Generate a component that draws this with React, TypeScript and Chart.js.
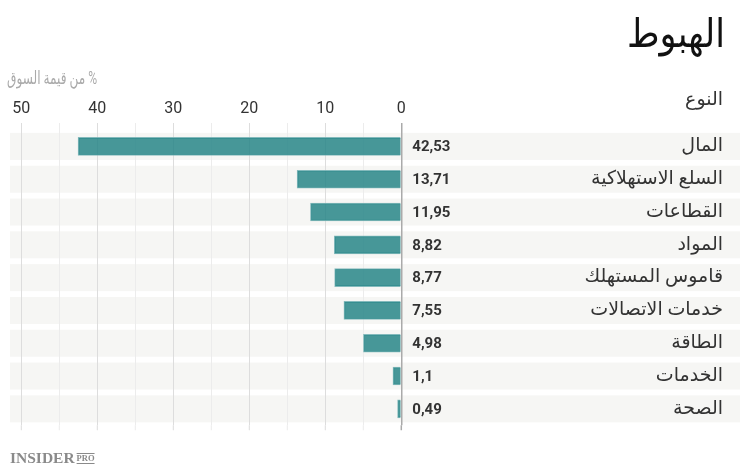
import React, { useEffect, useRef } from "react";
import { Chart, registerables } from "chart.js";

Chart.register(...registerables);

const title = "الهبوط";
const axisTitle = "% من قيمة السوق";
const columnHeader = "النوع";
const categories = [
  "المال",
  "السلع الاستهلاكية",
  "القطاعات",
  "المواد",
  "قاموس المستهلك",
  "خدمات الاتصالات",
  "الطاقة",
  "الخدمات",
  "الصحة",
];
const values = [42.53, 13.71, 11.95, 8.82, 8.77, 7.55, 4.98, 1.1, 0.49];
const valueLabels = ["42,53", "13,71", "11,95", "8,82", "8,77", "7,55", "4,98", "1,1", "0,49"];
const xTicks = [0, 10, 20, 30, 40, 50];

const FONT = "Roboto, 'Noto Sans', 'DejaVu Sans', sans-serif";

const decor = {
  id: "decor",
  beforeDraw(chart: any) {
    const { ctx } = chart;
    const y = chart.scales.y;
    ctx.save();
    ctx.fillStyle = "#f6f6f4";
    categories.forEach((_, i) => {
      const py = y.getPixelForValue(i);
      ctx.fillRect(10, py - 13.5, 730, 27);
    });
    ctx.restore();
  },
  beforeDatasetsDraw(chart: any) {
    const { ctx, chartArea } = chart;
    const x = chart.scales.x;
    ctx.save();
    x.ticks.forEach((t: any) => {
      const px = x.getPixelForValue(t.value);
      const v = t.value;
      ctx.strokeStyle = v === 0 ? "#aaaaaa" : v % 10 === 0 ? "#dddddd" : "#ececec";
      ctx.lineWidth = v === 0 ? 1.5 : 1;
      ctx.beginPath();
      ctx.moveTo(px, chartArea.bottom);
      ctx.lineTo(px, chartArea.bottom + 5);
      ctx.stroke();
    });
    ctx.restore();
  },
  afterDraw(chart: any) {
    const { ctx } = chart;
    const x = chart.scales.x;
    const y = chart.scales.y;
    const zero = x.getPixelForValue(0);
    ctx.save();
    // value labels
    ctx.fillStyle = "#333333";
    ctx.font = `bold 15px ${FONT}`;
    ctx.textAlign = "left";
    ctx.textBaseline = "middle";
    valueLabels.forEach((lab, i) => {
      ctx.fillText(lab, zero + 11, y.getPixelForValue(i) + 1);
    });
    // category labels
    ctx.direction = "rtl";
    ctx.font = `19px ${FONT}`;
    ctx.textAlign = "right";
    ctx.fillStyle = "#333333";
    categories.forEach((c, i) => {
      ctx.fillText(c, 723, y.getPixelForValue(i));
    });
    // header
    ctx.fillText(columnHeader, 723, 100);
    // title
    ctx.fillStyle = "#111111";
    ctx.font = `40px ${FONT}`;
    ctx.textBaseline = "alphabetic";
    ctx.fillText(title, 725, 47, 98);
    // axis title
    ctx.fillStyle = "#aaaaaa";
    ctx.font = `18px ${FONT}`;
    ctx.textBaseline = "middle";
    ctx.fillText(axisTitle, 97, 79, 90);
    // footer logo
    ctx.direction = "ltr";
    ctx.textAlign = "left";
    ctx.textBaseline = "alphabetic";
    ctx.fillStyle = "#8a8a8a";
    ctx.font = `bold 15.5px 'Liberation Serif', serif`;
    ctx.fillText("INSIDER", 10, 463);
    const w = ctx.measureText("INSIDER").width;
    ctx.font = `bold 8.5px 'Liberation Serif', serif`;
    ctx.fillText("PRO", 10 + w + 2, 461);
    const pw = ctx.measureText("PRO").width;
    ctx.fillRect(10 + w + 2, 453, pw, 1);
    ctx.fillRect(10 + w + 2, 463, pw, 1);
    ctx.restore();
  },
};

export default function App() {
  const ref = useRef<HTMLCanvasElement>(null);
  useEffect(() => {
    if (!ref.current) return;
    const chart = new Chart(ref.current, {
      type: "bar",
      data: {
        labels: categories,
        datasets: [
          {
            data: values,
            backgroundColor: "rgba(30,128,131,0.81)",
            borderColor: "rgba(120,180,182,0.9)",
            borderWidth: 1,
            barThickness: 18,
          },
        ],
      },
      options: {
        indexAxis: "y",
        animation: false,
        responsive: false,
        layout: { padding: { left: 21.3, right: 348.7, top: 95.8, bottom: 50.75 } },
        plugins: { legend: { display: false }, tooltip: { enabled: false } },
        scales: {
          x: {
            position: "top",
            reverse: true,
            min: 0,
            max: 50,
            border: { display: false },
            grid: {
              drawTicks: true,
              tickLength: 7,
              color: (c: any) =>
                c.tick && c.tick.value === 0 ? "#aaaaaa" : c.tick && c.tick.value % 10 === 0 ? "#dddddd" : "#ececec",
              lineWidth: (c: any) => (c.tick && c.tick.value === 0 ? 1.5 : 1),
            },
            ticks: {
              stepSize: 5,
              autoSkip: false,
              maxRotation: 0,
              padding: 4,
              color: "#333333",
              font: { family: FONT, size: 16 },
              callback: (v: any) => (xTicks.includes(Number(v)) ? String(v) : ""),
            },
          },
          y: {
            display: false,
            grid: { display: false },
          },
        },
      },
      plugins: [decor],
    });
    return () => chart.destroy();
  }, []);
  return (
    <div style={{ position: "fixed", left: 0, top: 0, width: 750, height: 476, background: "#fff" }}>
      <canvas ref={ref} width={750} height={476} style={{ width: 750, height: 476, display: "block" }} />
    </div>
  );
}
